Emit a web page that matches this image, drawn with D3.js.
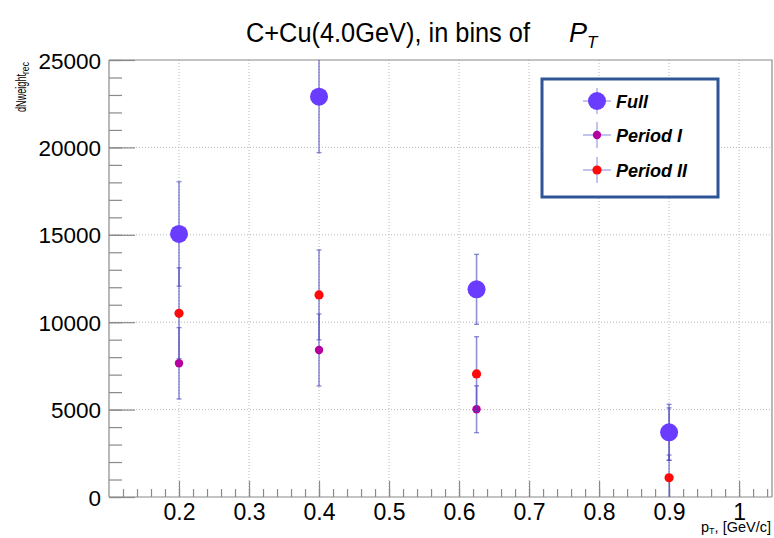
<!DOCTYPE html>
<html>
<head>
<meta charset="utf-8">
<script src="https://cdn.jsdelivr.net/npm/d3@7"></script>
<style>
  html, body { margin: 0; padding: 0; background: #fff; }
  svg { display: block; font-family: "Liberation Sans", Arial, sans-serif; }
</style>
</head>
<body>
<svg id="chart" width="774" height="538"></svg>
<script>
// Bin centres in p_T [GeV/c]
const pt = [0.2, 0.4, 0.625, 0.9];

// dNweight_rec per p_T bin and symmetric errors
const full = [15050, 22900, 11880, 3700];
const fullErr = [2990, 3200, 2000, 1600];
const periodI = [7650, 8410, 5020, 3600];
const periodIErr = [2040, 2060, 1340, 1500];
const periodII = [10510, 11560, 7040, 1100];
const periodIIErr = [2600, 2570, 2130, 1300];

const seriesNames = ["Full", "Period I", "Period II"];
const yMajorTicks = [0, 5000, 10000, 15000, 20000, 25000];
const xMajorTicks = [0.2, 0.3, 0.4, 0.5, 0.6, 0.7, 0.8, 0.9, 1.0];

const svg = d3.select("#chart");
const padL = 109, padR = 772, padT = 60, padB = 497;

const x = d3.scaleLinear().domain([0.1, 1.047]).range([padL, padR]);
const y = d3.scaleLinear().domain([0, 25000]).range([padB, padT]);

// Dotted grid at major ticks
const grid = svg.append("g");
grid.selectAll(".gx").data(xMajorTicks).join("line")
  .attr("x1", d => x(d)).attr("x2", d => x(d))
  .attr("y1", padT).attr("y2", padB)
  .attr("stroke", "#b8b8b8").attr("stroke-width", 1).attr("stroke-dasharray", "1,2");
grid.selectAll(".gy").data(yMajorTicks.filter(d => d > 0 && d < 25000)).join("line")
  .attr("x1", padL).attr("x2", padR)
  .attr("y1", d => y(d)).attr("y2", d => y(d))
  .attr("stroke", "#b8b8b8").attr("stroke-width", 1).attr("stroke-dasharray", "1,2");

// Frame (top and right edges)
svg.append("path")
  .attr("d", `M${padL},${padT}H${padR}V${padB}`)
  .attr("fill", "none").attr("stroke", "#8a8a8a").attr("stroke-width", 1.2);

// Axes with inward ticks
const xMinor = d3.range(0.12, 1.047, 0.02).map(v => +v.toFixed(2));
const yMinor = d3.range(0, 25001, 1000);

const xAxisMinor = svg.append("g").attr("transform", `translate(0,${padB})`)
  .call(d3.axisBottom(x).tickValues(xMinor).tickSize(-8).tickFormat(""));
const xAxis = svg.append("g").attr("transform", `translate(0,${padB})`)
  .call(d3.axisBottom(x).tickValues(xMajorTicks).tickSize(-16).tickPadding(7)
    .tickFormat(d => d === 1 ? "1" : d3.format(".1f")(d)));
const yAxisMinor = svg.append("g").attr("transform", `translate(${padL},0)`)
  .call(d3.axisLeft(y).tickValues(yMinor).tickSize(-13).tickFormat(""));
const yAxis = svg.append("g").attr("transform", `translate(${padL},0)`)
  .call(d3.axisLeft(y).tickValues(yMajorTicks).tickSize(-26).tickPadding(8)
    .tickFormat(d3.format("d")));

[xAxisMinor, xAxis, yAxisMinor, yAxis].forEach(g => {
  g.select(".domain").attr("stroke", "#8a8a8a").attr("stroke-width", 1.2);
  g.selectAll(".tick line").attr("stroke", "#8a8a8a").attr("stroke-width", 1.2);
});
xAxis.selectAll(".tick text").attr("font-size", 23).attr("fill", "#000")
  .attr("font-family", "Liberation Sans, Arial, sans-serif");
yAxis.selectAll(".tick text").attr("font-size", 22.5).attr("fill", "#000")
  .attr("font-family", "Liberation Sans, Arial, sans-serif").attr("dy", "0.36em");
xAxisMinor.select(".domain").remove();
yAxisMinor.select(".domain").remove();
xAxis.select(".domain").attr("d", `M${padL},0H${padR}`);
yAxis.select(".domain").attr("d", `M0,${padT}V${padB}`);

// Data series
const series = [
  { name: "Period I", vals: periodI, errs: periodIErr, r: 4.2, color: "#b5009e" },
  { name: "Period II", vals: periodII, errs: periodIIErr, r: 4.6, color: "#ff0a0a" },
  { name: "Full", vals: full, errs: fullErr, r: 9, color: "#6a3cff" }
];
const errColor = "rgba(70,70,190,0.6)";
const clampY = v => y(Math.max(0, Math.min(25000, v)));

series.forEach(s => {
  const g = svg.append("g");
  const pts = pt.map((p, i) => ({ p, v: s.vals[i], e: s.errs[i] }));
  g.selectAll("line.eb").data(pts).join("line")
    .attr("x1", d => x(d.p)).attr("x2", d => x(d.p))
    .attr("y1", d => clampY(d.v + d.e)).attr("y2", d => clampY(d.v - d.e))
    .attr("stroke", errColor).attr("stroke-width", 1.6);
  [1, -1].forEach(sign => {
    g.selectAll(null).data(pts.filter(d => d.v + sign * d.e > 0 && d.v + sign * d.e < 25000)).join("line")
      .attr("x1", d => x(d.p) - 2.5).attr("x2", d => x(d.p) + 2.5)
      .attr("y1", d => y(d.v + sign * d.e)).attr("y2", d => y(d.v + sign * d.e))
      .attr("stroke", errColor).attr("stroke-width", 1.4);
  });
  g.selectAll("circle").data(pts).join("circle")
    .attr("cx", d => x(d.p)).attr("cy", d => y(d.v)).attr("r", s.r)
    .attr("fill", s.color);
});

// Title
const title = svg.append("text").attr("x", 246).attr("y", 42)
  .attr("font-size", 27).attr("fill", "#000");
title.append("tspan").text("C+Cu(4.0GeV), in bins of")
  .attr("textLength", 284).attr("lengthAdjust", "spacingAndGlyphs");
title.append("tspan").attr("x", 569).attr("font-style", "italic").text("P");
title.append("tspan").attr("font-style", "italic").attr("font-size", 17).attr("dy", 6).text("T");

// Y axis label
const yl = svg.append("text")
  .attr("transform", `translate(26,62) rotate(-90)`)
  .attr("text-anchor", "end").attr("font-size", 15).attr("fill", "#000");
yl.append("tspan").text("dNweight").attr("textLength", 38).attr("lengthAdjust", "spacingAndGlyphs");
yl.append("tspan").attr("font-size", 10).attr("dy", 3).text("rec")
  .attr("textLength", 12).attr("lengthAdjust", "spacingAndGlyphs");

// X axis label
const xl = svg.append("text").attr("x", 771).attr("y", 532)
  .attr("text-anchor", "end").attr("font-size", 14.5).attr("fill", "#000");
xl.append("tspan").text("p");
xl.append("tspan").attr("font-size", 9).attr("dy", 2).text("T");
xl.append("tspan").attr("dy", -2).text(", [GeV/c]");

// Legend
const lg = svg.append("g");
lg.append("rect").attr("x", 542).attr("y", 79).attr("width", 176).attr("height", 118)
  .attr("fill", "#fff").attr("stroke", "#2f5597").attr("stroke-width", 3);
const legendRows = [
  { name: "Full", r: 9, color: "#6a3cff", cy: 101 },
  { name: "Period I", r: 4.2, color: "#b5009e", cy: 135 },
  { name: "Period II", r: 4.6, color: "#ff0a0a", cy: 170 }
];
legendRows.forEach(row => {
  lg.append("line").attr("x1", 583).attr("x2", 611).attr("y1", row.cy).attr("y2", row.cy)
    .attr("stroke", "rgba(90,90,210,0.45)").attr("stroke-width", 1.6);
  lg.append("line").attr("x1", 597).attr("x2", 597).attr("y1", row.cy - 13).attr("y2", row.cy + 13)
    .attr("stroke", "rgba(90,90,210,0.45)").attr("stroke-width", 1.6);
  lg.append("circle").attr("cx", 597).attr("cy", row.cy).attr("r", row.r).attr("fill", row.color);
  lg.append("text").attr("x", 616).attr("y", row.cy + 7).attr("font-size", 18)
    .attr("font-weight", "bold").attr("font-style", "italic").attr("fill", "#000").text(row.name);
});
</script>
</body>
</html>
